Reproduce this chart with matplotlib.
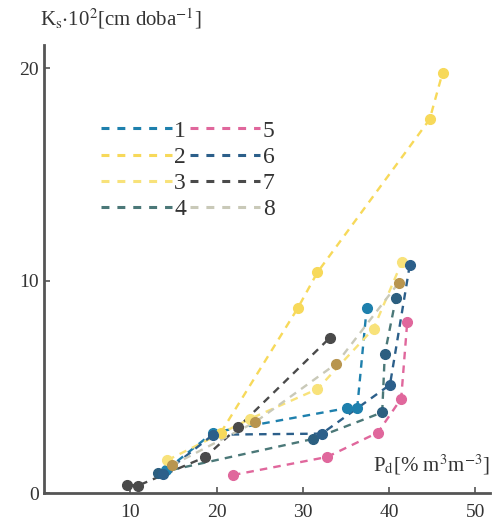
import matplotlib
matplotlib.use("Agg")
import matplotlib.pyplot as plt
from matplotlib.lines import Line2D

plt.rcParams['font.family'] = ['Liberation Serif', 'DejaVu Serif']
plt.rcParams['mathtext.fontset'] = 'stix'

# data (Pd in %, Ks*10^2 in cm/day)
labels = ['1', '2', '3', '4', '5', '6', '7', '8']
x1 = [14.2, 19.6, 35.1, 36.3, 37.4]
y1 = [1.1, 2.85, 4.0, 4.0, 8.7]
x2 = [20.5, 29.4, 31.7, 44.7, 46.2]
y2 = [2.85, 8.7, 10.4, 17.6, 19.8]
x3 = [14.3, 23.9, 31.7, 38.2, 41.5]
y3 = [1.55, 3.5, 4.9, 7.75, 10.9]
x4 = [13.2, 31.2, 39.2, 39.5, 40.8]
y4 = [0.95, 2.55, 3.8, 6.55, 9.2]
x5 = [21.9, 32.8, 38.7, 41.4, 42.1]
y5 = [0.85, 1.7, 2.85, 4.45, 8.05]
x6 = [13.8, 19.6, 32.2, 40.1, 42.4]
y6 = [0.9, 2.75, 2.8, 5.1, 10.75]
x7 = [9.6, 10.9, 18.7, 22.5, 33.1]
y7 = [0.4, 0.35, 1.7, 3.1, 7.3]
x8 = [14.8, 24.5, 33.9, 41.1]
y8 = [1.3, 3.35, 6.1, 9.9]

series_x = [x1, x2, x3, x4, x5, x6, x7, x8]
series_y = [y1, y2, y3, y4, y5, y6, y7, y8]
line_colors = ['#1e80ad', '#f7d95a', '#f8e27a', '#4b7878', '#e0679c', '#2c5f8a', '#4a4a4a', '#c9c9b8']
marker_colors = ['#1e80ad', '#f7d95a', '#f8e27a', '#2c5f80', '#e0679c', '#2c5f8a', '#4a4a4a', '#b8954f']

fig = plt.figure(figsize=(4.97, 5.24), dpi=100)
ax = fig.add_axes([0.0885, 0.059, 0.8975, 0.855])

for xs, ys, lc, mc in zip(series_x, series_y, line_colors, marker_colors):
    ax.plot(xs, ys, color=lc, lw=1.7, dashes=(3.2, 2.6), zorder=2)
    ax.plot(xs, ys, 'o', color=mc, ms=7, zorder=3)

ax.set_xlim(0, 51.7)
ax.set_ylim(0, 21.1)
ax.set_xticks([10, 20, 30, 40, 50])
ax.set_yticks([0, 10, 20])
ax.tick_params(direction='in', length=4, width=1.2, labelsize=14, color='#555555',
               labelcolor='#333333')
ax.tick_params(axis='x', pad=8)
for side in ['top', 'right']:
    ax.spines[side].set_visible(False)
for side in ['left', 'bottom']:
    ax.spines[side].set_linewidth(2)
    ax.spines[side].set_color('#555555')

ax.text(-0.5, 21.75, r'K$_\mathrm{s}$$\cdot$10$^\mathrm{2}$[cm doba$^\mathrm{-1}$]',
        fontsize=15, color='#333333', ha='left', va='bottom', clip_on=False)
ax.text(51.7, 0.75, r'P$_\mathrm{d}$[% m$^\mathrm{3}$m$^\mathrm{-3}$]',
        fontsize=15, color='#333333', ha='right', va='bottom')

handles = [Line2D([], [], color=c, lw=2.2, dashes=(2.6, 2.6)) for c in line_colors]
ax.legend(handles, labels, ncol=2, frameon=False, loc='upper left',
          bbox_to_anchor=(0.08, 0.88), fontsize=17, handlelength=3.0,
          handletextpad=0.1, columnspacing=0.15, labelspacing=0.2,
          labelcolor='#333333')

fig.savefig('out.png', dpi=100)
